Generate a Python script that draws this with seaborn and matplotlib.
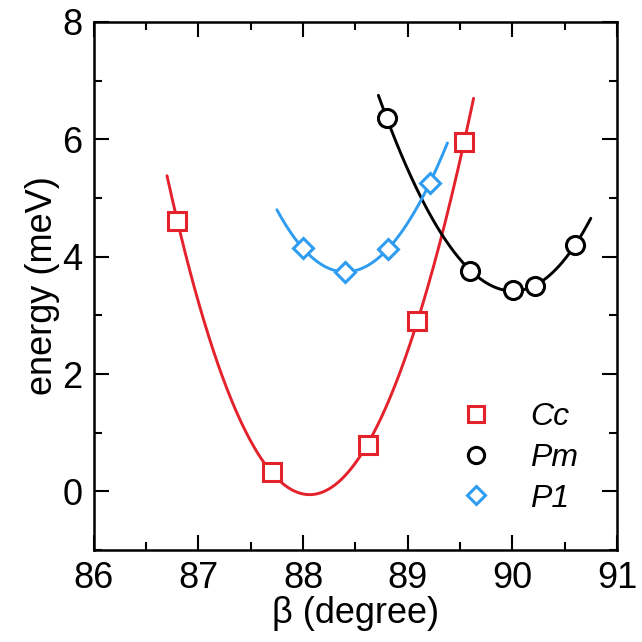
import numpy as np
import pandas as pd
import matplotlib
matplotlib.use("Agg")
import matplotlib.pyplot as plt
from matplotlib.lines import Line2D
from matplotlib.ticker import MultipleLocator
import seaborn as sns

sns.set_theme(style="white")
plt.rcParams['font.family'] = ['Liberation Sans', 'DejaVu Sans']
plt.rcParams['text.color'] = 'black'

# Data
cc_beta = [86.80, 87.70, 88.62, 89.09, 89.54]
cc_energy = [4.60, 0.33, 0.80, 2.90, 5.95]
pm_beta = [88.80, 89.60, 90.01, 90.22, 90.60]
pm_energy = [6.36, 3.76, 3.43, 3.50, 4.20]
p1_beta = [88.00, 88.40, 88.81, 89.21]
p1_energy = [4.14, 3.74, 4.13, 5.25]

# fit ranges of the curves
cc_range = (86.70, 89.63)
pm_range = (88.72, 90.75)
p1_range = (87.75, 89.38)

labels = ["Cc", "Pm", "P1"]
colors = ["#e4222c", "black", "#2e9cf0"]
markers = ["s", "o", "D"]
msizes = [13, 13, 10]

series = [(cc_beta, cc_energy, cc_range, 3),
          (pm_beta, pm_energy, pm_range, 3),
          (p1_beta, p1_energy, p1_range, 3)]

fig = plt.figure(figsize=(6.42, 6.42), dpi=100)
ax = fig.add_axes([0.146, 0.143, 0.815, 0.823])

handles = []
for (bx, by, rng, deg), lab, col, mk, ms in zip(series, labels, colors, markers, msizes):
    coef = np.polyfit(bx, by, deg)
    xf = np.linspace(rng[0], rng[1], 200)
    fit = pd.DataFrame({"x": xf, "y": np.polyval(coef, xf)})
    sns.lineplot(data=fit, x="x", y="y", color=col, lw=2.1, ax=ax, zorder=2)
    pts = pd.DataFrame({"x": bx, "y": by})
    ax.plot(pts["x"], pts["y"], ls="none", marker=mk, ms=ms, mfc="white",
            mec=col, mew=2.2, zorder=3)
    handles.append(Line2D([], [], ls="none", marker=mk, ms=ms * 0.9, mfc="white",
                          mec=col, mew=2.2, label=lab))

ax.set_xlim(86, 91)
ax.set_ylim(-1, 8)
ax.xaxis.set_major_locator(MultipleLocator(1))
ax.xaxis.set_minor_locator(MultipleLocator(0.5))
ax.yaxis.set_major_locator(MultipleLocator(2))
ax.yaxis.set_minor_locator(MultipleLocator(1))
ax.tick_params(which="both", direction="in", top=True, right=True,
               bottom=True, left=True, width=1.5, colors="black")
ax.tick_params(which="major", length=11, labelsize=26, pad=8)
ax.tick_params(which="minor", length=6)
for s in ax.spines.values():
    s.set_color("black")
    s.set_linewidth(1.8)
ax.set_xlabel("β (degree)", fontsize=26, color="black", labelpad=0)
ax.set_ylabel("energy (meV)", fontsize=26, color="black", labelpad=2)

leg = ax.legend(handles=handles, loc="lower right", frameon=False,
                prop={"style": "italic", "size": 23}, handletextpad=0.7,
                labelspacing=0.34, borderaxespad=0, bbox_to_anchor=(0.95, 0.045),
                labelcolor="black")

fig.savefig("out.png", dpi=100)
